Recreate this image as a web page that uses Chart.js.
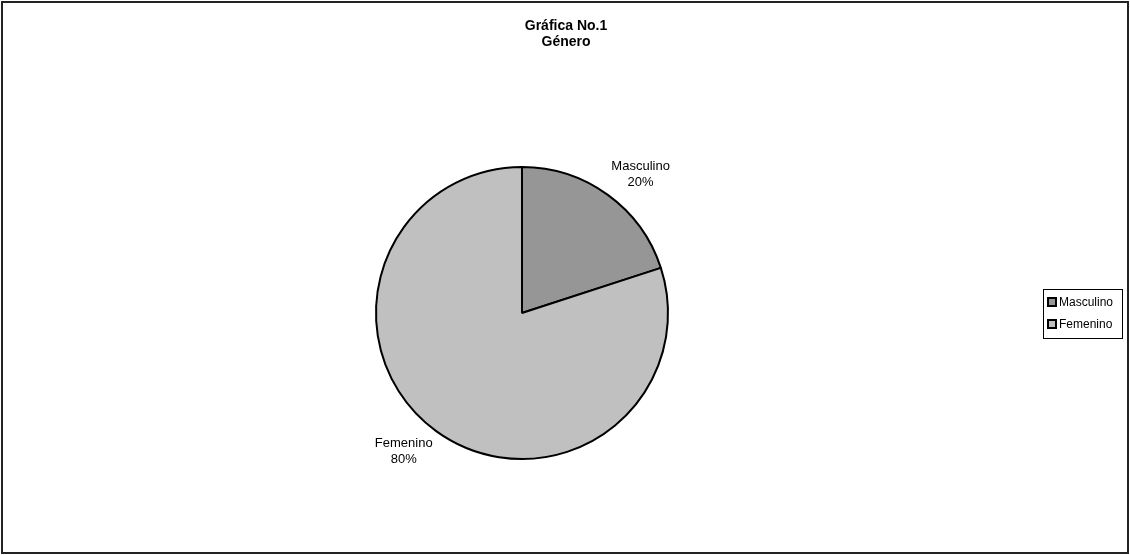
<!DOCTYPE html>
<html>
<head>
<meta charset="utf-8">
<script src="https://cdn.jsdelivr.net/npm/chart.js@4/dist/chart.umd.min.js"></script>
<style>
  html, body { margin: 0; padding: 0; background: #fff; }
  #wrap { width: 1130px; height: 555px; }
</style>
</head>
<body>
<div id="wrap"><canvas id="pieChart" width="1130" height="555"></canvas></div>
<script>
// Data
const titleLines = ['Gráfica No.1', 'Género'];
const categories = ['Masculino', 'Femenino'];
const values = [20, 80];
const sliceColors = ['#969696', '#c0c0c0'];

const FONT = 'Arial, "Liberation Sans", sans-serif';

// frame + title + outside labels + legend box, drawn like the old Excel chart
const excelDecor = {
    id: 'excelDecor',
    beforeDraw(chart) {
        const ctx = chart.ctx;
        ctx.save();
        ctx.fillStyle = '#fff';
        ctx.fillRect(0, 0, chart.width, chart.height);
        ctx.strokeStyle = '#222';
        ctx.lineWidth = 2;
        ctx.strokeRect(2, 2, chart.width - 4, chart.height - 4);
        ctx.restore();
    },
    afterDraw(chart) {
        const ctx = chart.ctx;
        ctx.save();

        // title
        ctx.fillStyle = '#000';
        ctx.font = 'bold 14px ' + FONT;
        ctx.textAlign = 'center';
        ctx.textBaseline = 'alphabetic';
        titleLines.forEach((line, i) => {
            ctx.fillText(line, 566, 30 + i * 16);
        });

        // slice labels outside the pie
        ctx.font = '13px ' + FONT;
        ctx.textBaseline = 'middle';
        const total = values.reduce((a, b) => a + b, 0);
        const meta = chart.getDatasetMeta(0);
        meta.data.forEach((arc, i) => {
            const mid = (arc.startAngle + arc.endAngle) / 2;
            const r = arc.outerRadius + 6;
            const px = arc.x + Math.cos(mid) * r;
            const py = arc.y + Math.sin(mid) * r;
            const lines = [categories[i], Math.round(values[i] / total * 100) + '%'];
            const w = Math.max(...lines.map(l => ctx.measureText(l).width));
            const h = 31;
            const cx = px + Math.sign(Math.cos(mid)) * w / 2;
            const cy = py + Math.sign(Math.sin(mid)) * h / 2;
            lines.forEach((l, j) => {
                ctx.fillText(l, cx, cy - 7.75 + j * 15.5);
            });
        });

        // legend
        const lx = 1043, ly = 289, lw = 79, lh = 49;
        ctx.strokeStyle = '#000';
        ctx.lineWidth = 1;
        ctx.strokeRect(lx + 0.5, ly + 0.5, lw, lh);
        ctx.font = '12px ' + FONT;
        ctx.textAlign = 'left';
        categories.forEach((c, i) => {
            const y = ly + 13 + i * 22;
            ctx.fillStyle = sliceColors[i];
            ctx.fillRect(lx + 5, y - 4, 8, 8);
            ctx.lineWidth = 2;
            ctx.strokeStyle = '#000';
            ctx.strokeRect(lx + 5, y - 4, 8, 8);
            ctx.fillStyle = '#000';
            ctx.fillText(c, lx + 16, y + 1);
        });
        ctx.restore();
    }
};

new Chart(document.getElementById('pieChart'), {
    type: 'pie',
    data: {
        labels: categories,
        datasets: [{
            data: values,
            backgroundColor: sliceColors,
            borderColor: '#000',
            borderWidth: 2
        }]
    },
    options: {
        responsive: false,
        animation: false,
        layout: {
            padding: { left: 375, right: 461, top: 166, bottom: 95 }
        },
        plugins: {
            legend: { display: false },
            title: { display: false },
            tooltip: { enabled: false }
        }
    },
    plugins: [excelDecor]
});
</script>
</body>
</html>
